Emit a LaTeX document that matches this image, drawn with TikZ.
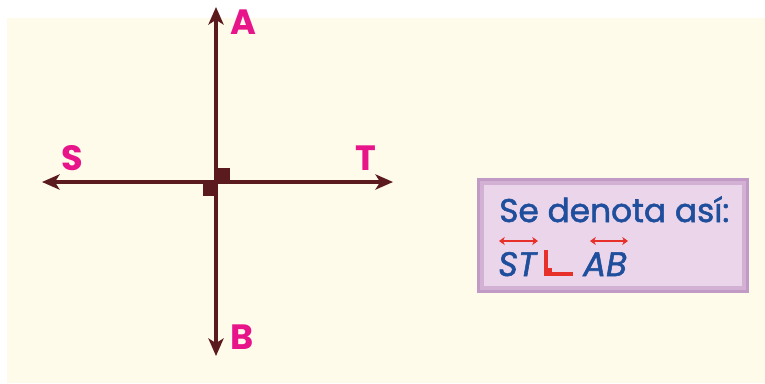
\documentclass[tikz,border=0pt]{standalone}
\usepackage{fontspec}
\setmainfont{Poppins}
\newfontfamily\boxfont{Poppins}[FakeBold=1.6]
\usetikzlibrary{arrows.meta}
\usetikzlibrary{calc}
\definecolor{cream}{HTML}{FEFBEA}
\definecolor{linecol}{HTML}{5B1A1E}
\definecolor{labcol}{HTML}{E8148A}
\definecolor{txtcol}{HTML}{1E4E9C}
\definecolor{redcol}{HTML}{E8302A}
\definecolor{boxfill}{HTML}{EBD5EA}
\definecolor{boxedge}{HTML}{C29AC6}
\tikzset{
  axisline/.style={linecol, line width=2.6pt, {Stealth[length=15pt,width=13pt,inset=4pt]}-{Stealth[length=15pt,width=13pt,inset=4pt]}},
  ptlabel/.style={labcol, font=\fontsize{30}{30}\selectfont\bfseries, inner sep=0pt},
  notetext/.style={txtcol, inner sep=0pt, anchor=base west, font=\fontsize{28}{28}\selectfont\boxfont},
  overarrow/.style={redcol, line width=1.6pt, {Stealth[length=5pt,width=7pt]}-{Stealth[length=5pt,width=7pt]}}
}
\begin{document}
\begin{tikzpicture}[x=0.03cm,y=-0.03cm]
\useasboundingbox (0,0) rectangle (765,383);
\fill[cream] (7,18) rectangle (765,383);
        %lines
        \coordinate (Atip) at (216,7);
        \coordinate (Btip) at (216,356);
        \coordinate (Stip) at (42,182);
        \coordinate (Ttip) at (393,182);
        \coordinate (O) at (216,182);
        \fill[linecol] (O) rectangle ++(14,-14);
        \fill[linecol] (O) rectangle ++(-13,14);
        \draw[axisline] (Btip) -- (Atip);
        \draw[axisline] (Stip) -- (Ttip);
        %labels
        \node[ptlabel] (A) at (243,22) {A};
        \node[ptlabel] (B) at (242,337) {B};
        \node[ptlabel] (S) at (72,158) {S};
        \node[ptlabel] (T) at (366,158) {T};
        %box
        \fill[boxedge] (477,178) rectangle (749,293);
        \fill[boxedge!60!boxfill] (480,181) rectangle (746,290);
        \fill[boxfill] (484,185) rectangle (742,286);
        \node[notetext] (title) at (499,222) {Se denota así:};
        \node[notetext, font=\fontsize{29}{29}\selectfont\boxfont\itshape] (st) at (498,276) {ST};
        \node[notetext, font=\fontsize{29}{29}\selectfont\boxfont\itshape] (ab) at (583,276) {AB};
        \coordinate (perp) at (546,274);
        \draw[redcol, line width=3.6pt] ($(perp)+(0,-24)$) |- ($(perp)+(27,0)$);
        \fill[redcol] (perp) rectangle ++(6,-6);
        \coordinate (st1) at (499,241);
        \coordinate (st2) at (538,241);
        \coordinate (ab1) at (590,241);
        \coordinate (ab2) at (628,241);
        \draw[overarrow] (st1) -- (st2);
        \draw[overarrow] (ab1) -- (ab2);
\end{tikzpicture}
\end{document}
